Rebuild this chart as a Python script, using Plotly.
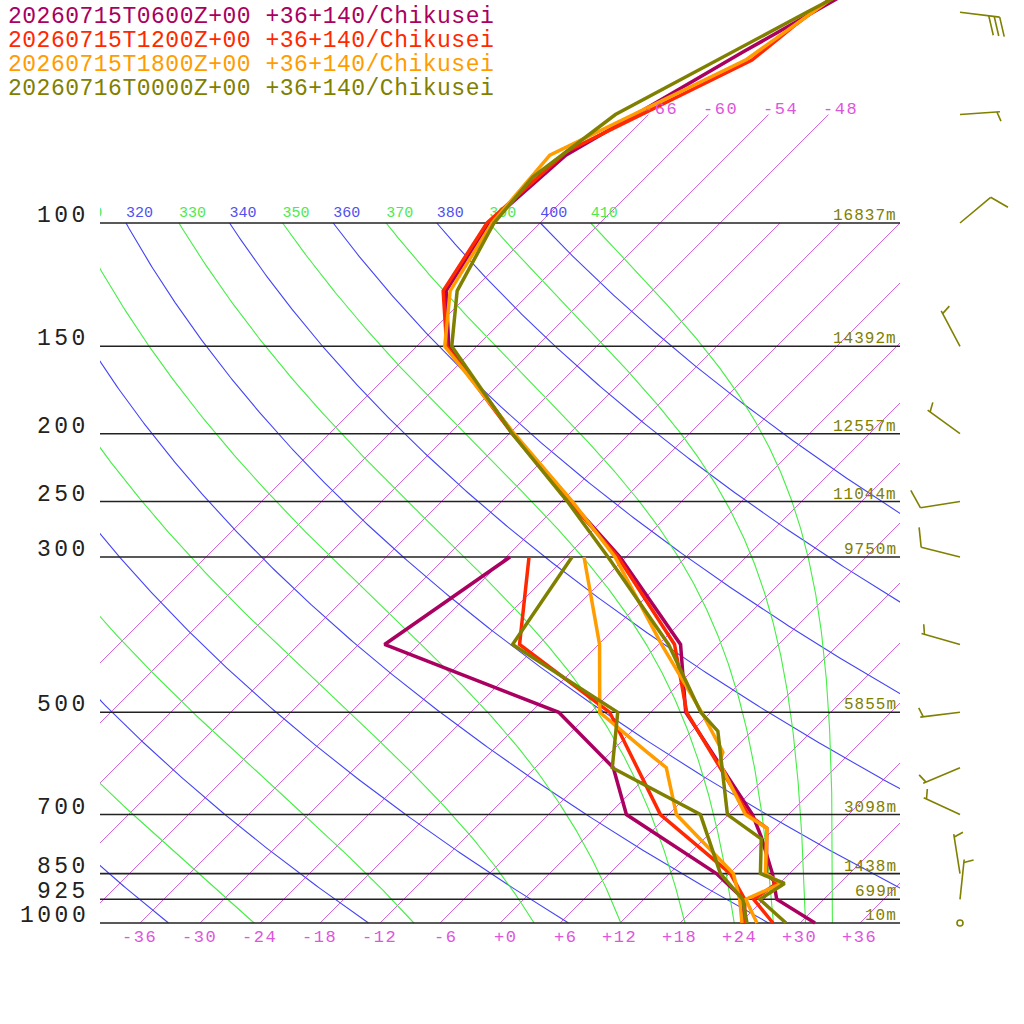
import numpy as np
import plotly.graph_objects as go

# ---------------- data ----------------
SERIES = ["20260715T0600Z+00 +36+140/Chikusei",
          "20260715T1200Z+00 +36+140/Chikusei",
          "20260715T1800Z+00 +36+140/Chikusei",
          "20260716T0000Z+00 +36+140/Chikusei"]
COLORS = ["#aa0060", "#ff2800", "#ff9c00", "#808000"]

# temperature profiles (hPa, degC)
P_T_06 = [1000, 925, 850, 753, 700, 500, 400, 300, 250, 200, 150, 125, 100, 80, 57, 40]
T_06 = [31.5, 25.3, 22.3, 17.5, 14.4, -2.5, -9.8, -24.6, -35.1, -47.6, -62.8, -68.6, -71.1, -70.2, -62.8, -54.6]
P_T_12 = [1000, 925, 878, 850, 732, 700, 500, 400, 300, 250, 200, 150, 125, 100, 79, 58.5, 52.3, 40]
T_12 = [27.3, 23.0, 23.7, 21.7, 17.2, 14.0, -2.4, -10.4, -24.8, -35.2, -47.7, -63.0, -68.9, -71.3, -70.5, -61.1, -60.3, -57.6]
P_T_18 = [1000, 925, 878, 850, 732, 700, 590, 570, 500, 400, 300, 250, 200, 150, 125, 100, 80, 58.4, 40]
T_18 = [25.7, 22.2, 24.2, 21.6, 17.2, 13.7, 5.9, 5.2, -0.9, -11.7, -25.1, -34.9, -47.5, -63.2, -68.2, -70.8, -71.8, -61.7, -57.1]
P_T_00 = [1000, 925, 878, 850, 758, 700, 532, 500, 400, 300, 250, 200, 150, 125, 100, 86, 70, 50, 40]
T_00 = [28.6, 23.6, 24.5, 21.1, 17.7, 11.9, 2.6, -1.0, -11.0, -25.8, -35.4, -47.7, -62.5, -67.5, -70.6, -71.3, -69.3, -60.4, -54.2]

# dew point profiles (hPa, degC)
P_TD_06 = [1000, 925, 850, 700, 600, 500, 400, 300]
TD_06 = [24.2, 22.0, 16.7, 1.8, -4.2, -15.2, -39.4, -35.6]
P_TD_12 = [1000, 925, 850, 700, 500, 400, 300]
TD_12 = [24.5, 22.1, 18.1, 5.2, -10.1, -25.9, -33.7]
P_TD_18 = [1000, 925, 850, 700, 600, 569, 500, 400, 300]
TD_18 = [24.2, 21.6, 18.4, 6.8, 1.1, -2.5, -11.1, -17.9, -28.2]
P_TD_00 = [1000, 925, 850, 700, 600, 500, 400, 300]
TD_00 = [24.7, 21.9, 17.1, 9.2, -4.3, -9.3, -26.6, -29.4]

# winds of the last run (hPa, deg, kt)
P_WIND = [1000, 925, 850, 700, 600, 500, 400, 300, 250, 200, 150, 100, 70, 50]
WDIR = [0, 6, 351, 295, 247, 263, 286, 284, 261, 306, 332, 50, 86, 97]
WSPD = [0, 5, 5, 5, 5, 5, 5, 10, 10, 5, 5, 10, 5, 30]

# standard levels and their heights
P_STD = [1000, 925, 850, 700, 500, 300, 250, 200, 150, 100]
HGT_STD = [10, 699, 1438, 3098, 5855, 9750, 11044, 12557, 14392, 16837]

# background lines
ISOTHERMS = list(range(-66, 37, 6))
DRY_THETA = list(range(240, 401, 20))
MOIST_THETA = list(range(250, 411, 20))
BOTTOM_TLABELS = list(range(-36, 37, 6))
TOP_TLABELS = [-66, -60, -54, -48]

# ---------------- geometry helpers ----------------
W = H = 1024
K = 700 / np.log(10) / 10.0      # skew (degC per ln p unit)
PXLN = 700 / np.log(10)          # pixels per ln p unit
KAPPA = 0.2857
MONO = "Liberation Mono"


def PX(X):
    return X / W


def PY(Y):
    return 1 - Y / H


def sx(T, p):
    return np.asarray(T, float) + K * np.log(1000.0 / np.asarray(p, float))


def theta_e_sat(Tk, p):
    Tc = Tk - 273.15
    es = 6.112 * np.exp(17.67 * Tc / (Tc + 243.5))
    r = 622.0 * es / (p - es)
    return Tk * (1000.0 / p) ** (0.2854 * (1 - 0.00028 * r)) * \
        np.exp((3.376 / Tk - 0.00254) * r * (1 + 0.00081 * r))


def moist_T(the, p):
    lo = np.full_like(p, 150.0)
    hi = 200 + 120 * (p / 1000.0) ** 0.29
    for _ in range(60):
        mid = 0.5 * (lo + hi)
        f = theta_e_sat(mid, p) - the
        lo = np.where(f < 0, mid, lo)
        hi = np.where(f < 0, hi, mid)
    return 0.5 * (lo + hi) - 273.15


fig = go.Figure()


def add_line(x, y, color, width, xa="x"):
    fig.add_trace(go.Scatter(x=x, y=y, mode="lines", xaxis=xa, yaxis="y",
                             line=dict(color=color, width=width),
                             hoverinfo="skip", showlegend=False))


pg = np.geomspace(1000, 100, 300)

# isotherms
xs, ys = [], []
for T in ISOTHERMS:
    ptop = 70 if T in TOP_TLABELS else 100
    pp = np.array([1000.0, ptop])
    xs += list(sx([T, T], pp)) + [None]
    ys += list(pp) + [None]
add_line(xs, ys, "#cc50dc", 0.9)

# dry adiabats
xs, ys = [], []
for th in DRY_THETA:
    T = th * (pg / 1000.0) ** KAPPA - 273.15
    xs += list(sx(T, pg)) + [None]
    ys += list(pg) + [None]
add_line(xs, ys, "#4444f4", 1.1)

# moist adiabats
xs, ys = [], []
for th in MOIST_THETA:
    T = moist_T(th, pg)
    xs += list(sx(T, pg)) + [None]
    ys += list(pg) + [None]
add_line(xs, ys, "#44ee44", 1.1)

# standard isobars
xs, ys = [], []
for p in P_STD:
    xs += [-40, 40, None]
    ys += [p, p, None]
add_line(xs, ys, "#222222", 1.6)

# theta labels at 100 hPa (clipped to plot)
lab_x, lab_t, lab_c = [], [], []
for th in sorted(DRY_THETA + MOIST_THETA):
    if th < 310:
        continue
    if th in DRY_THETA:
        T100 = th * 0.1 ** KAPPA - 273.15
        c = "#5050f0"
    else:
        T100 = float(moist_T(float(th), np.array([100.0]))[0])
        c = "#50e850"
    lab_x.append(float(sx(T100, 100.0)))
    lab_t.append(str(th))
    lab_c.append(c)
fig.add_trace(go.Scatter(x=lab_x, y=[100 * 10 ** (-10 / 700.0)] * len(lab_x),
                         mode="text", text=lab_t, textposition="middle right",
                         textfont=dict(family=MONO, size=15, color=lab_c),
                         hoverinfo="skip", showlegend=False, cliponaxis=True))

# soundings
T_SETS = [(P_T_06, T_06), (P_T_12, T_12), (P_T_18, T_18), (P_T_00, T_00)]
TD_SETS = [(P_TD_06, TD_06), (P_TD_12, TD_12), (P_TD_18, TD_18), (P_TD_00, TD_00)]
for (pt, t), (pd, td), col in zip(T_SETS, TD_SETS, COLORS):
    add_line(list(sx(td, pd)), pd, col, 3.5)
    add_line(list(sx(t, pt)), pt, col, 3.5)

# wind barbs (last run) on a full-width axis
XB = 46.0   # barb base position in x2 units


def rot(v, ang):
    a = np.radians(ang)
    return np.array([v[0] * np.cos(a) - v[1] * np.sin(a),
                     v[0] * np.sin(a) + v[1] * np.cos(a)])


bx, by, calm_x, calm_y = [], [], [], []
for p, d, s in zip(P_WIND, WDIR, WSPD):
    if s < 2.5:
        calm_x.append(XB)
        calm_y.append(p)
        continue
    u = np.array([np.sin(np.radians(d)), -np.cos(np.radians(d))])
    bdir = rot(u, 70)

    def pt(off):
        return XB + off[0] / 10.0, 10 ** (np.log10(p) + off[1] / 700.0)

    segs = [(np.zeros(2), 40 * u)]
    nfull = int(s // 10)
    half = (s % 10) >= 5
    for i in range(nfull):
        st = (40 - 5.5 * i) * u
        segs.append((st, st + 20 * bdir))
    if half:
        pos = 40 - 5.5 * nfull if nfull else 37
        st = pos * u
        segs.append((st, st + 10 * bdir))
    for a, b in segs:
        x0, y0 = pt(a)
        x1, y1 = pt(b)
        bx += [x0, x1, None]
        by += [y0, y1, None]
add_line(bx, by, "#808000", 1.6, xa="x2")
fig.add_trace(go.Scatter(x=calm_x, y=calm_y, mode="markers", xaxis="x2", yaxis="y",
                         marker=dict(symbol="circle-open", size=6, color="#808000",
                                     line=dict(width=1.6, color="#808000")),
                         hoverinfo="skip", showlegend=False))

# ---------------- text ----------------
ann = []
for i, (name, col) in enumerate(zip(SERIES, COLORS)):
    ann.append(dict(text='<span style="letter-spacing:0.5px">%s</span>' % name,
                    xref="paper", yref="paper", x=PX(6),
                    y=PY(17 + 24 * i), xanchor="left", yanchor="middle",
                    showarrow=False, font=dict(family=MONO, size=23, color=col)))
for p in P_STD:
    ann.append(dict(text='<span style="letter-spacing:3.5px">%d</span>' % p,
                    xref="paper", yref="y", x=PX(91), y=np.log10(p),
                    xanchor="right", yanchor="middle", yshift=7, showarrow=False,
                    font=dict(family=MONO, size=23, color="#222222")))
for p, h in zip(P_STD, HGT_STD):
    ann.append(dict(text='<span style="letter-spacing:1px">%dm</span>' % h,
                    xref="paper", yref="y", x=PX(899), y=np.log10(p),
                    xanchor="right", yanchor="middle", yshift=7, showarrow=False,
                    font=dict(family=MONO, size=16, color="#808000")))
for T in BOTTOM_TLABELS:
    ann.append(dict(text='<span style="letter-spacing:1.5px">%+d</span>' % T,
                    xref="x", yref="y", x=T, y=np.log10(1000.0),
                    xanchor="right", xshift=19, yanchor="middle", yshift=-14,
                    showarrow=False, font=dict(family=MONO, size=17, color="#dd55dd")))
for T in TOP_TLABELS:
    ann.append(dict(text='<span style="letter-spacing:1.5px">%+d</span>' % T,
                    xref="x", yref="y", x=float(sx(T, 70.0)), y=np.log10(70.0),
                    xanchor="left", xshift=-7, yanchor="middle", yshift=5,
                    showarrow=False, font=dict(family=MONO, size=17, color="#dd55dd")))

ptop = 1000 * np.exp(-923 / PXLN)
pbot = 1000 * np.exp(6 / PXLN)
fig.update_layout(
    width=W, height=H, margin=dict(l=0, r=0, t=0, b=0),
    paper_bgcolor="white", plot_bgcolor="rgba(0,0,0,0)",
    showlegend=False, annotations=ann, hovermode=False,
    xaxis=dict(domain=[PX(100), PX(900)], range=[-40, 40], visible=False,
               anchor="y", fixedrange=True),
    xaxis2=dict(domain=[0, 1], range=[-50.0, (W - 500) / 10.0],
                visible=False, anchor="y", fixedrange=True),
    yaxis=dict(type="log", domain=[PY(929), 1],
               range=[np.log10(pbot), np.log10(ptop)], visible=False,
               anchor="x", fixedrange=True),
)
fig.write_html("out.html", config={"displayModeBar": False, "staticPlot": True},
               post_script="document.body.style.margin='0px';"
                           "document.body.style.overflow='hidden';")
